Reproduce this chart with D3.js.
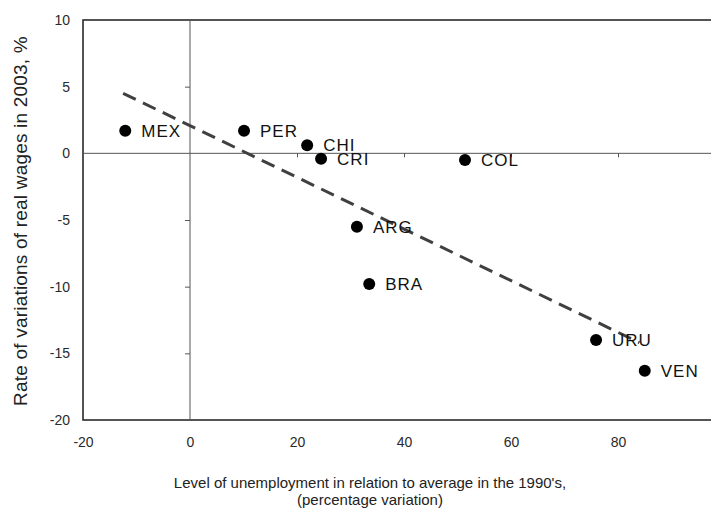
<!DOCTYPE html>
<html>
<head>
<meta charset="utf-8">
<script src="https://cdn.jsdelivr.net/npm/d3@7"></script>
<style>
  body { margin: 0; background: #fff; }
  svg { display: block; font-family: "Liberation Sans", Arial, sans-serif; }
</style>
</head>
<body>
<svg width="711" height="508"></svg>
<script>
var countries = ["MEX", "PER", "CHI", "CRI", "COL", "ARG", "BRA", "URU", "VEN"];
var unemployment = [-12.1, 10.1, 21.9, 24.5, 51.4, 31.2, 33.5, 75.9, 85.0];
var wages = [1.7, 1.7, 0.6, -0.4, -0.5, -5.5, -9.8, -14.0, -16.3];

var trendX = [-12.5, 84.0];
var trendY = [4.5, -14.2];

var xTicks = [-20, 0, 20, 40, 60, 80];
var yTicks = [-20, -15, -10, -5, 0, 5, 10];

var svg = d3.select("svg"),
    margin = { top: 20, right: -14, bottom: 88, left: 83 },
    width = +svg.attr("width") - margin.left - margin.right,
    height = +svg.attr("height") - margin.top - margin.bottom,
    g = svg.append("g").attr("transform", "translate(" + margin.left + "," + margin.top + ")");

var x = d3.scaleLinear().domain([-20, 100]).range([0, width]);
var y = d3.scaleLinear().domain([-20, 10]).range([height, 0]);

var ink = "#2a2a2a";
var plain = d => String(d);   // hyphen minus, like the original

// frame
g.append("rect")
    .attr("width", width)
    .attr("height", height)
    .attr("fill", "none")
    .attr("stroke", ink)
    .attr("stroke-width", 1.6);

// zero lines with small ticks
var yZero = g.append("g")
    .attr("transform", "translate(" + x(0) + ",0)")
    .call(d3.axisLeft(y).tickValues(yTicks.filter(d => d > -20 && d < 10 && d != 0)).tickSize(5).tickFormat(""));
yZero.select(".domain").remove();
yZero.append("line").attr("y1", 0).attr("y2", height);

var xZero = g.append("g")
    .attr("transform", "translate(0," + y(0) + ")")
    .call(d3.axisBottom(x).tickValues(xTicks.filter(d => d > 0)).tickSize(4).tickFormat(""));
xZero.select(".domain").remove();
xZero.append("line").attr("x1", 0).attr("x2", width);

g.selectAll(".tick line, g > line").attr("stroke", "#555").attr("stroke-width", 1);

// tick labels around the frame
var yLab = g.append("g")
    .call(d3.axisLeft(y).tickValues(yTicks).tickSize(0).tickPadding(13).tickFormat(plain));
yLab.select(".domain").remove();
yLab.selectAll("text").attr("font-size", 14).attr("fill", ink).style("font-family", "inherit");

var xLab = g.append("g")
    .attr("transform", "translate(0," + height + ")")
    .call(d3.axisBottom(x).tickValues(xTicks).tickSize(0).tickPadding(17).tickFormat(plain));
xLab.select(".domain").remove();
xLab.selectAll("text").attr("font-size", 14).attr("fill", ink).style("font-family", "inherit");

// trend line
g.append("path")
    .datum(d3.zip(trendX, trendY))
    .attr("fill", "none")
    .attr("stroke", "#404040")
    .attr("stroke-width", 3)
    .attr("stroke-dasharray", "14,8")
    .attr("d", d3.line().x(d => x(d[0])).y(d => y(d[1])));

// points
var pts = g.selectAll(".pt")
    .data(countries.map((c, i) => ({ name: c, x: unemployment[i], y: wages[i] })))
    .enter().append("g")
    .attr("class", "pt")
    .attr("transform", d => "translate(" + x(d.x) + "," + y(d.y) + ")");

pts.append("circle").attr("r", 6).attr("fill", "#000");
pts.append("text")
    .attr("x", 16)
    .attr("dy", "0.36em")
    .attr("font-size", 17)
    .attr("letter-spacing", 1)
    .attr("fill", "#111")
    .text(d => d.name);

// axis titles
svg.append("text")
    .attr("transform", "translate(27,221) rotate(-90)")
    .attr("text-anchor", "middle")
    .attr("font-size", 19)
    .attr("letter-spacing", 0.2)
    .attr("fill", "#222")
    .text("Rate of variations of real wages in 2003, %");

var xt = svg.append("text")
    .attr("text-anchor", "middle")
    .attr("font-size", 15)
    .attr("fill", "#222");
xt.append("tspan").attr("x", 370).attr("y", 488).text("Level of unemployment in relation to average in the 1990's,");
xt.append("tspan").attr("x", 370).attr("y", 505).text("(percentage variation)");
</script>
</body>
</html>
